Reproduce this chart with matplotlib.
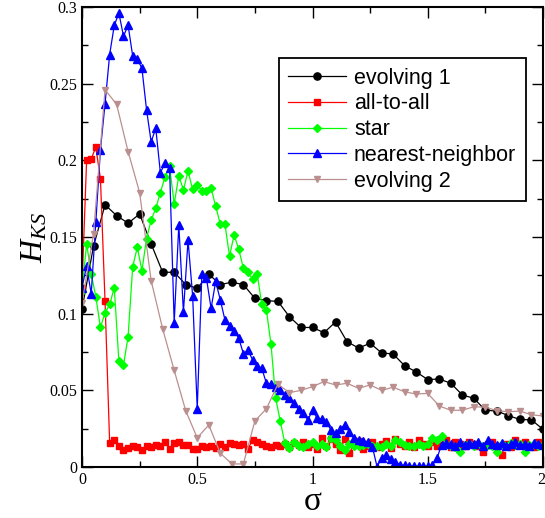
import numpy as np
import matplotlib
matplotlib.use('Agg')
from matplotlib import pyplot as plt
from matplotlib.transforms import ScaledTranslation

plt.rcParams['font.family'] = ['Liberation Serif', 'DejaVu Serif']
plt.rcParams['mathtext.fontset'] = 'custom'
plt.rcParams['mathtext.it'] = 'Liberation Serif:italic'
plt.rcParams['mathtext.rm'] = 'Liberation Serif'

# sigma grids (coarse sets every 0.05, fine sets every 0.02)
sigma_coarse = np.round(np.arange(0, 2.0001, 0.05), 3)
sigma_fine = np.round(np.arange(0, 2.0001, 0.02), 3)

evolving1 = [0.103, 0.144, 0.171, 0.164, 0.159, 0.165, 0.1455, 0.127, 0.127, 0.119,
             0.1165, 0.1257, 0.119, 0.1205, 0.119, 0.110, 0.1085, 0.108, 0.098, 0.091,
             0.091, 0.0876, 0.0946, 0.0817, 0.0776, 0.0807, 0.0744, 0.0737, 0.066, 0.062,
             0.057, 0.0574, 0.0546, 0.047, 0.0448, 0.037, 0.0365, 0.0335, 0.031, 0.0307,
             0.0246]

evolving2 = [0.107, 0.152, 0.246, 0.2366, 0.2057, 0.179, 0.1215, 0.090, 0.063, 0.0367,
             0.019, 0.0274, 0.009, 0.002, 0.002, 0.030, 0.038, 0.054, 0.0485, 0.050,
             0.0524, 0.0557, 0.0535, 0.0546, 0.0513, 0.0535, 0.050, 0.052, 0.049, 0.0476,
             0.048, 0.0398, 0.037, 0.037, 0.0393, 0.039, 0.0367, 0.036, 0.0365, 0.034,
             0.0333]

all_to_all = [0.117, 0.200, 0.201, 0.2085, 0.188,     # 0.00-0.08
              0.108, 0.0155, 0.0176, 0.0137, 0.0111,  # 0.10-0.18
              0.0126, 0.0137, 0.0130, 0.0110, 0.0137,
              0.0130, 0.0143, 0.0137, 0.0160, 0.0120,
              0.0155, 0.0165, 0.0143, 0.0145, 0.0120,
              0.0115, 0.0135, 0.0128, 0.0140, 0.0125,
              0.0150, 0.0130, 0.0155, 0.0150, 0.0145,
              0.0150, 0.0120, 0.0175, 0.0160, 0.0150,
              0.0140, 0.0130, 0.0145, 0.0140, 0.0150,
              0.0130, 0.0155, 0.0145, 0.0160, 0.0130,
              0.0150, 0.0120, 0.0190, 0.0135, 0.0180,  # 1.00-1.08
              0.0150, 0.0110, 0.0185, 0.0090, 0.0150,
              0.0170, 0.0120, 0.0140, 0.0165, 0.0130,
              0.0150, 0.0170, 0.0125, 0.0185, 0.0150,
              0.0135, 0.0160, 0.0130, 0.0175, 0.0150,
              0.0140, 0.0160, 0.0135, 0.0145, 0.0175,
              0.0130, 0.0165, 0.0150, 0.0140, 0.0165,
              0.0150, 0.0135, 0.0100, 0.0150, 0.0160,
              0.0140, 0.0080, 0.0150, 0.0130, 0.0175,
              0.0150, 0.0160, 0.0140, 0.0130, 0.0160,
              0.0150]

star = [0.115, 0.1455, 0.126, 0.111, 0.091,      # 0.00-0.08
        0.1006, 0.106, 0.117, 0.069, 0.0665,
        0.085, 0.1307, 0.1433, 0.128, 0.149,
        0.161, 0.1687, 0.179, 0.189, 0.196,
        0.1716, 0.190, 0.1807, 0.193, 0.181,
        0.184, 0.180, 0.180, 0.182, 0.170,
        0.1585, 0.1585, 0.1376, 0.1513, 0.142,
        0.1296, 0.1274, 0.1224, 0.126, 0.106,
        0.1024, 0.080, 0.045, 0.030, 0.0155,   # 0.80-0.88
        0.0125, 0.0160, 0.0137, 0.0130, 0.0150,
        0.0160, 0.0140, 0.0150, 0.0130, 0.0187,  # 1.00-1.08
        0.0175, 0.0140, 0.0110, 0.0150, 0.0135,
        0.0140, 0.0145, 0.0150, 0.0135, 0.0140,
        0.0130, 0.0150, 0.0140, 0.0176, 0.0165,
        0.0145, 0.0140, 0.0135, 0.0150, 0.0140,
        0.0150, 0.0190, 0.0175, 0.0200, 0.0150,
        0.0140, 0.0130, 0.0100, 0.0145, 0.0150,
        0.0140, 0.0150, 0.0135, 0.0145, 0.0140,
        0.0100, 0.0150, 0.0140, 0.0155, 0.0145,
        0.0150, 0.0100, 0.0145, 0.0150, 0.0140,
        0.0145]

nearest = [0.117, 0.131, 0.113, 0.160, 0.207,    # 0.00-0.08
           0.237, 0.269, 0.288, 0.296, 0.281,
           0.288, 0.268, 0.266, 0.260, 0.233,
           0.212, 0.221, 0.192, 0.198, 0.195,
           0.094, 0.158, 0.101, 0.148, 0.1115,
           0.038, 0.126, 0.123, 0.1035, 0.121,
           0.109, 0.096, 0.092, 0.089, 0.084,
           0.074, 0.076, 0.070, 0.066, 0.0644,
           0.0546, 0.054, 0.052, 0.050, 0.047,
           0.045, 0.0415, 0.0376, 0.035, 0.0307,
           0.037, 0.0318, 0.031, 0.0296, 0.024,   # 1.00-1.08
           0.022, 0.025, 0.0274, 0.023, 0.0187,
           0.0176, 0.017, 0.0165, 0.013, 0.0002,
           0.0057, 0.0078, 0.0050, 0.0035, 0.0013,
           0.0010, 0.0008, 0.0005, 0.0005, 0.0005,
           0.0005, 0.0010, 0.0057, 0.0144, 0.0155,
           0.0150, 0.0140, 0.0160, 0.0145, 0.0155,
           0.0150, 0.0165, 0.0140, 0.0176, 0.0150,
           0.0145, 0.0155, 0.0140, 0.0150, 0.0160,
           0.0145, 0.0150, 0.0140, 0.0155, 0.0150,
           0.0145]

fig = plt.figure(figsize=(5.45, 5.18), dpi=100)
ax = fig.add_axes([82 / 545, 51 / 518, 461 / 545, 460 / 518])

lw = 0.9
ax.plot(sigma_coarse, evolving1, color='black', marker='o', ms=5.2, lw=lw,
        label='evolving 1')
ax.plot(sigma_fine, all_to_all, color='#ff0000', marker='s', ms=4.2, lw=lw,
        label='all-to-all')
ax.plot(sigma_fine, star, color='#00ff00', marker='D', ms=4.0, lw=lw,
        label='star')
ax.plot(sigma_fine, nearest, color='#0000ff', marker='^', ms=5.5, lw=lw,
        label='nearest-neighbor')
ax.plot(sigma_coarse, evolving2, color='#bc8f8f', marker='v', ms=5.0, lw=lw,
        label='evolving 2')

ax.set_xlim(0, 2)
ax.set_ylim(0, 0.3)
ax.set_xticks([0, 0.5, 1, 1.5, 2])
ax.set_xticklabels(['0', '0.5', '1', '1.5', '2'])
ax.set_xticks(np.arange(0, 2.01, 0.25), minor=True)
ax.set_yticks([0, 0.05, 0.1, 0.15, 0.2, 0.25, 0.3])
ax.set_yticklabels(['0', '0.05', '0.1', '0.15', '0.2', '0.25', '0.3'])
ax.set_yticks(np.arange(0, 0.301, 0.025), minor=True)
ax.tick_params(which='both', direction='in', top=True, right=True,
               labelsize=11.5, width=1.0)
ax.tick_params(which='major', length=8)
ax.tick_params(which='minor', length=4.5)
for s in ax.spines.values():
    s.set_linewidth(1.5)

# keep the last x tick label "2" inside the figure edge
last = ax.get_xticklabels()[-1]
last.set_horizontalalignment('right')
last.set_transform(last.get_transform() +
                   ScaledTranslation(2 / 100, 0, fig.dpi_scale_trans))

# x label placed directly so it sits in the strip under the tick labels
fig.text(313 / 545, 1 / 518, 'σ', fontsize=24, ha='center', va='bottom')
ax.set_ylabel('$H_{KS}$', fontsize=23, labelpad=0)

leg = ax.legend(loc='upper right', bbox_to_anchor=(0.963, 0.889),
                borderaxespad=0,
                prop={'family': 'Liberation Sans', 'size': 15.5},
                fancybox=False, edgecolor='black', framealpha=1,
                handlelength=2.7, borderpad=0.45, labelspacing=0.22,
                handletextpad=0.35)
leg.get_frame().set_linewidth(1.3)

fig.savefig('out.png', dpi=100)
